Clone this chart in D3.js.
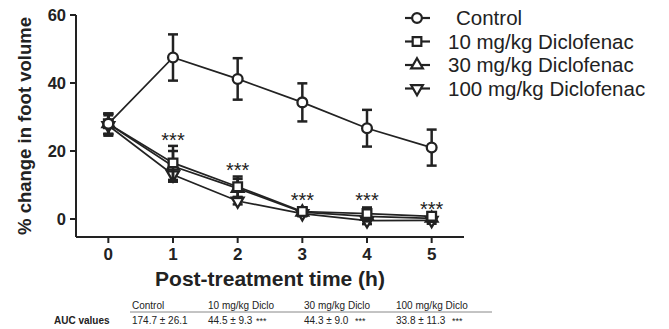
<!DOCTYPE html>
<html lang="en">
<head>
<meta charset="UTF-8">
<title>Foot volume</title>
<script src="https://d3js.org/d3.v7.min.js"></script>
<style>
  body { margin: 0; background: #fff; }
  text { font-family: Arial, "Liberation Sans", sans-serif; fill: #222; }
</style>
</head>
<body>
<div id="chart"></div>
<script>
const hours = [0, 1, 2, 3, 4, 5];
const seriesNames = ["Control", "10 mg/kg Diclofenac", "30 mg/kg Diclofenac", "100 mg/kg Diclofenac"];
const controlMean = [28, 47.5, 41.2, 34.3, 26.7, 21];
const controlSem = [3, 6.8, 6.1, 5.6, 5.4, 5.3];
const diclo10Mean = [28, 16.5, 9.5, 2.2, 1.6, 0.8];
const diclo10Sem = [3, 5, 3, 1, 1.8, 1.2];
const diclo30Mean = [28, 15.5, 9, 2, 0.8, 0.2];
const diclo30Sem = [3, 4.5, 2.8, 1, 1.5, 1];
const diclo100Mean = [27.5, 13, 5.3, 1.6, -0.5, -0.4];
const diclo100Sem = [3, 2, 1, 0.8, 1, 1];
const starY = [null, 24.4, 15.6, 6.8, 6.8, 4.1];
const yTicks = [0, 20, 40, 60];
const aucHeaders = ["Control", "10 mg/kg Diclo", "30 mg/kg Diclo", "100 mg/kg Diclo"];
const aucValues = ["174.7 ± 26.1", "44.5 ± 9.3", "44.3 ± 9.0", "33.8 ± 11.3"];
const aucStars = ["", "***", "***", "***"];

const width = 669, height = 329;
const svg = d3.select("#chart").append("svg")
  .attr("width", width).attr("height", height);

const x = d3.scaleLinear().domain([-0.5, 5.5]).range([76, 464]);
const y = d3.scaleLinear().domain([0, 60]).range([219, 15]);
const axisBottomY = 237;
const ink = "#222";

// axes
svg.append("line").attr("x1", 76).attr("x2", 76).attr("y1", y(60)).attr("y2", axisBottomY)
  .attr("stroke", ink).attr("stroke-width", 2);
svg.append("line").attr("x1", 76).attr("x2", 464).attr("y1", axisBottomY).attr("y2", axisBottomY)
  .attr("stroke", ink).attr("stroke-width", 2);

yTicks.forEach(t => {
  svg.append("line").attr("x1", 70).attr("x2", 76).attr("y1", y(t)).attr("y2", y(t))
    .attr("stroke", ink).attr("stroke-width", 2);
  svg.append("text").attr("x", 66).attr("y", y(t)).attr("dy", "0.36em")
    .attr("text-anchor", "end").attr("font-size", 16.5).attr("font-weight", "bold").text(t);
});
hours.forEach(h => {
  svg.append("line").attr("x1", x(h)).attr("x2", x(h)).attr("y1", axisBottomY).attr("y2", axisBottomY + 6)
    .attr("stroke", ink).attr("stroke-width", 2);
  svg.append("text").attr("x", x(h)).attr("y", 260)
    .attr("text-anchor", "middle").attr("font-size", 17).attr("font-weight", "bold").text(h);
});

svg.append("text").attr("x", 270).attr("y", 286).attr("text-anchor", "middle")
  .attr("font-size", 21).attr("font-weight", "bold").text("Post-treatment time (h)");
svg.append("text").attr("transform", "translate(31,126) rotate(-90)").attr("text-anchor", "middle")
  .attr("font-size", 18.5).attr("font-weight", "bold").text("% change in foot volume");

// symbols
const symbolTypes = [d3.symbolCircle, d3.symbolSquare, d3.symbolTriangle, d3.symbolTriangle];
const symbolSizes = [75, 75, 60, 60];
const symbolRot = [0, 0, 0, 180];

const series = [
  { mean: controlMean, sem: controlSem },
  { mean: diclo10Mean, sem: diclo10Sem },
  { mean: diclo30Mean, sem: diclo30Sem },
  { mean: diclo100Mean, sem: diclo100Sem }
];

const line = d3.line().x((d, i) => x(hours[i])).y(d => y(d));
const drawOrder = [3, 2, 1, 0];

drawOrder.forEach(si => {
  const s = series[si];
  const g = svg.append("g");
  g.append("path").attr("d", line(s.mean)).attr("fill", "none")
    .attr("stroke", ink).attr("stroke-width", 1.7);
  s.mean.forEach((m, i) => {
    const cx = x(hours[i]);
    const top = y(m + s.sem[i]), bot = y(m - s.sem[i]);
    g.append("line").attr("x1", cx).attr("x2", cx).attr("y1", top).attr("y2", bot)
      .attr("stroke", ink).attr("stroke-width", 2.5);
    [top, bot].forEach(yy => g.append("line").attr("x1", cx - 5).attr("x2", cx + 5)
      .attr("y1", yy).attr("y2", yy).attr("stroke", ink).attr("stroke-width", 2.5));
    g.append("path").attr("d", d3.symbol().type(symbolTypes[si]).size(symbolSizes[si])())
      .attr("transform", `translate(${cx},${y(m)}) rotate(${symbolRot[si]})`)
      .attr("fill", "#fff").attr("stroke", ink).attr("stroke-width", 2.3);
  });
});

// significance stars
hours.forEach((h, i) => {
  if (starY[i] == null) return;
  svg.append("text").attr("x", x(h)).attr("y", y(starY[i]) + 11).attr("text-anchor", "middle")
    .attr("font-size", 20).attr("fill", "#555").text("***");
});

// legend
const legendY = [18, 41.5, 65, 88.5];
seriesNames.forEach((name, i) => {
  const ly = legendY[i];
  svg.append("line").attr("x1", 405).attr("x2", 430).attr("y1", ly).attr("y2", ly)
    .attr("stroke", ink).attr("stroke-width", 2.2);
  svg.append("path").attr("d", d3.symbol().type(symbolTypes[i]).size(symbolSizes[i])())
    .attr("transform", `translate(417,${ly}) rotate(${symbolRot[i]})`)
    .attr("fill", "#fff").attr("stroke", ink).attr("stroke-width", 2.2);
  svg.append("text").attr("x", i === 0 ? 456 : 448).attr("y", ly).attr("dy", "0.36em")
    .attr("font-size", 20.5).text(name);
});

// AUC table
const colX = [132, 208, 304, 396];
const starX = [0, 256, 355, 452];
svg.append("line").attr("x1", 130).attr("x2", 492).attr("y1", 312).attr("y2", 312)
  .attr("stroke", "#888").attr("stroke-width", 1);
svg.append("text").attr("x", 54).attr("y", 324).attr("font-size", 10)
  .attr("font-weight", "bold").text("AUC values");
aucHeaders.forEach((hd, i) => {
  svg.append("text").attr("x", colX[i]).attr("y", 309).attr("font-size", 10)
    .attr("fill", "#444").text(hd);
  svg.append("text").attr("x", colX[i]).attr("y", 324).attr("font-size", 10)
    .attr("fill", "#444").text(aucValues[i]);
  if (aucStars[i]) svg.append("text").attr("x", starX[i]).attr("y", 324).attr("font-size", 9)
    .attr("fill", "#444").text(aucStars[i]);
});
</script>
</body>
</html>
